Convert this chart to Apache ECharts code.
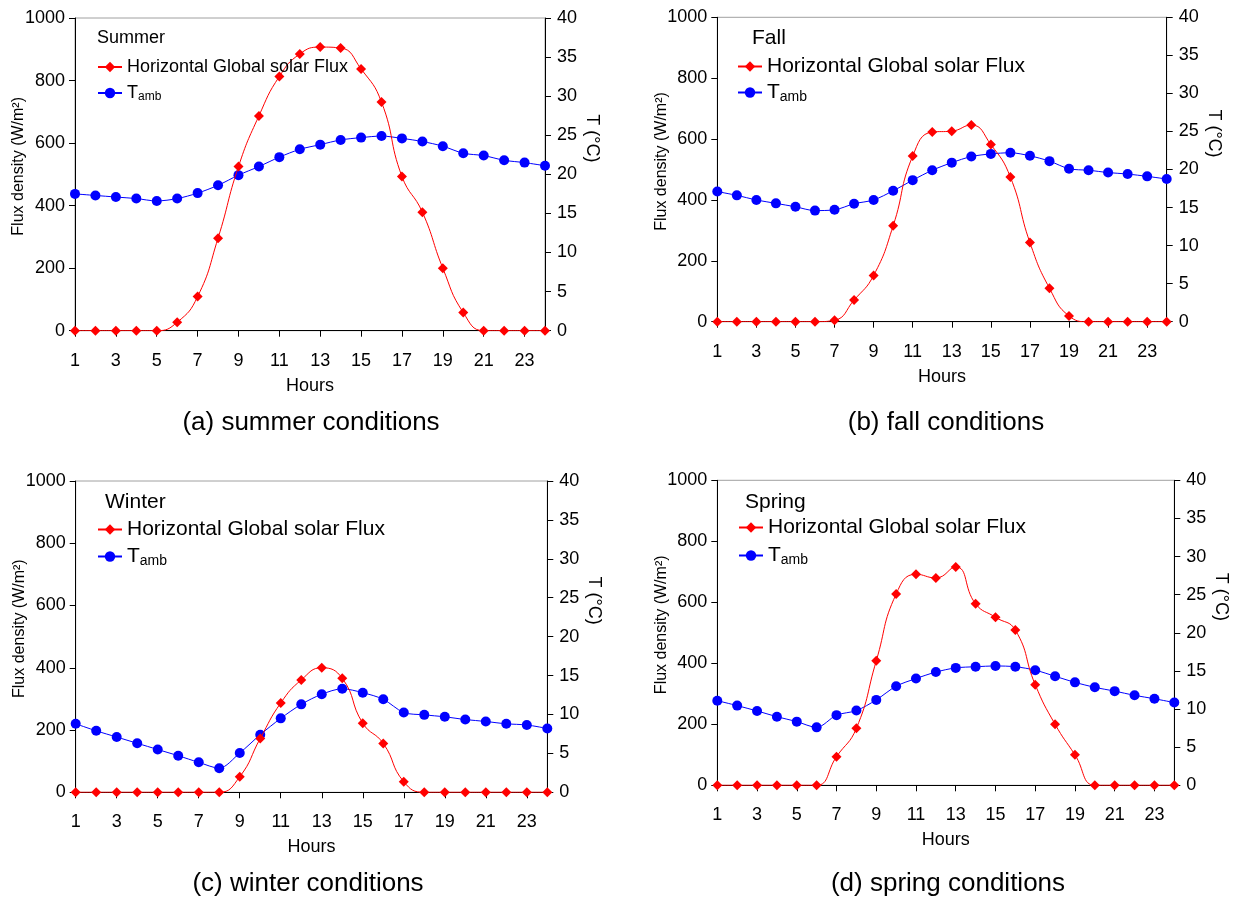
<!DOCTYPE html>
<html><head><meta charset="utf-8">
<script src="https://cdn.jsdelivr.net/npm/echarts@6/dist/echarts.min.js"></script>
<style>html,body{margin:0;padding:0;background:#fff}#c{width:1237px;height:898px}</style>
</head><body><div id="c"></div>
<script>
// ---------- data ----------
const hours = ['1','2','3','4','5','6','7','8','9','10','11','12','13','14','15','16','17','18','19','20','21','22','23','24'];
const seriesNames = ['Horizontal Global solar Flux', 'Tamb'];
const seasonLabels = ['Summer', 'Fall', 'Winter', 'Spring'];
const captions = ['(a) summer conditions', '(b) fall conditions', '(c) winter conditions', '(d) spring conditions'];
const fluxAxisName = 'Flux density (W/m²)';
const tempAxisName = 'T (°C)';
const xAxisName = 'Hours';

const summerFlux = [0,0,0,0,0,27,109,296,525,687,813,885,907,904,837,731,493,379,200,58,0,0,0,0];
const summerTamb = [17.5,17.3,17.1,16.9,16.6,16.9,17.6,18.6,19.9,21.0,22.2,23.2,23.8,24.4,24.7,24.9,24.6,24.2,23.6,22.7,22.4,21.8,21.5,21.1];
const fallFlux = [0,0,0,0,0,0,5,71,152,315,544,623,626,646,582,475,260,110,19,0,0,0,0,0];
const fallTamb = [17.1,16.6,16.0,15.55,15.1,14.6,14.7,15.5,16.0,17.2,18.6,19.9,20.9,21.7,22.05,22.2,21.8,21.1,20.1,19.9,19.6,19.4,19.1,18.75];
const winterFlux = [0,0,0,0,0,0,0,0,50,173,287,361,400,366,222,157,34,0,0,0,0,0,0,0];
const winterTamb = [8.8,7.9,7.1,6.3,5.5,4.7,3.85,3.1,5.05,7.4,9.5,11.3,12.6,13.3,12.8,11.95,10.25,9.95,9.7,9.35,9.1,8.8,8.65,8.2];
const springFlux = [0,0,0,0,0,0,94,187,408,627,692,680,716,595,551,509,330,200,100,0,0,0,0,0];
const springTamb = [11.1,10.45,9.75,9.0,8.35,7.6,9.2,9.8,11.2,13.0,14.0,14.85,15.4,15.55,15.65,15.55,15.1,14.3,13.5,12.85,12.35,11.8,11.35,10.85];

const fluxData = [summerFlux, fallFlux, winterFlux, springFlux];
const tambData = [summerTamb, fallTamb, winterTamb, springTamb];

// ---------- layout ----------
const FONT = 'Liberation Sans, Arial, sans-serif';
const panels = [
  {grid:{left:75, top:18, width:470, height:312.7}, season:{x:97, y:38, size:18}, legend:{left:97, top:58, gap:8, size:18}, caption:{x:311, y:423}},
  {grid:{left:717.3, top:17.3, width:449.4, height:304.4}, season:{x:752, y:38, size:21}, legend:{left:737, top:56, gap:5, size:21}, caption:{x:946, y:423}},
  {grid:{left:75.7, top:481, width:471.6, height:311.3}, season:{x:105, y:502, size:21}, legend:{left:97, top:519, gap:6, size:21}, caption:{x:308, y:884}},
  {grid:{left:717.3, top:480.3, width:457, height:305}, season:{x:745, y:502, size:21}, legend:{left:738, top:517, gap:7, size:21}, caption:{x:948, y:884}}
];

const grids = [], xAxes = [], yAxes = [], series = [], legends = [], graphics = [];
panels.forEach((p, i) => {
  grids.push(Object.assign({show:true, borderColor:'#a0a0a0', borderWidth:1, backgroundColor:'transparent', containLabel:false, outerBoundsMode:'none'}, p.grid));
  xAxes.push({
    type:'category', gridIndex:i, data:hours, boundaryGap:false,
    name:xAxisName, nameLocation:'middle', nameGap:46, nameMoveOverlap:false,
    nameTextStyle:{fontSize:18, fontFamily:FONT, color:'#000'},
    axisLine:{lineStyle:{color:'#000', width:1}},
    axisTick:{interval:1, length:6, inside:false, lineStyle:{color:'#000'}},
    axisLabel:{interval:1, margin:21, fontSize:18, fontFamily:FONT, color:'#000'},
    splitLine:{show:false}
  });
  yAxes.push({
    type:'value', gridIndex:i, position:'left', min:0, max:1000, interval:200,
    name:fluxAxisName, nameLocation:'middle', nameGap:48, nameMoveOverlap:false,
    nameTextStyle:{fontSize:16, fontFamily:FONT, color:'#000', padding:[0,0,0,16]},
    axisLine:{show:true, lineStyle:{color:'#000', width:1}},
    axisTick:{show:true, length:6, lineStyle:{color:'#000'}},
    axisLabel:{margin:10, fontSize:18, fontFamily:FONT, color:'#000', formatter: v => String(v)},
    splitLine:{show:false}
  });
  yAxes.push({
    type:'value', gridIndex:i, position:'right', min:0, max:40, interval:5,
    name:tempAxisName, nameLocation:'middle', nameGap:38, nameRotate:-90, nameMoveOverlap:false,
    nameTextStyle:{fontSize:18, fontFamily:FONT, color:'#000', padding:[0,72,0,0]},
    axisLine:{show:true, lineStyle:{color:'#000', width:1}},
    axisTick:{show:true, length:6, lineStyle:{color:'#000'}},
    axisLabel:{margin:12, fontSize:18, fontFamily:FONT, color:'#000', formatter: v => String(v)},
    splitLine:{show:false}
  });
  series.push({
    type:'line', name:seriesNames[1], xAxisIndex:i, yAxisIndex:2*i+1, data:tambData[i],
    smooth:0.3, symbol:'circle', symbolSize:10, z:2,
    lineStyle:{color:'#0000ff', width:1}, itemStyle:{color:'#0000ff'}
  });
  series.push({
    type:'line', name:seriesNames[0], xAxisIndex:i, yAxisIndex:2*i, data:fluxData[i],
    smooth:0.5, symbol:'diamond', symbolSize:10, z:3,
    lineStyle:{color:'#ff0000', width:1}, itemStyle:{color:'#ff0000'}
  });
  const s = p.legend.size;
  legends.push({
    orient:'vertical', left:p.legend.left, top:p.legend.top, itemGap:p.legend.gap,
    itemWidth:24, itemHeight:13, selectedMode:false, padding:0,
    data:[seriesNames[0], seriesNames[1]],
    formatter: n => n === 'Tamb' ? '{t|T}{s|amb}' : n,
    textStyle:{fontSize:s, fontFamily:FONT, color:'#000',
      rich:{t:{fontSize:s, fontFamily:FONT, color:'#000'},
            s:{fontSize:Math.round(s*0.68), fontFamily:FONT, color:'#000', padding:[Math.round(s*0.45),0,0,0]}}}
  });
  graphics.push({type:'text', x:p.season.x, y:p.season.y,
    style:{text:seasonLabels[i], fontSize:p.season.size, fontFamily:FONT, fill:'#000', align:'left', verticalAlign:'middle'}});
  graphics.push({type:'text', x:p.caption.x, y:p.caption.y,
    style:{text:captions[i], fontSize:26, fontFamily:FONT, fill:'#000', align:'center', verticalAlign:'middle'}});
});

const chart = echarts.init(document.getElementById('c'), null, {renderer:'canvas'});
chart.setOption({
  animation:false, backgroundColor:'#fff',
  grid:grids, xAxis:xAxes, yAxis:yAxes, series:series, legend:legends, graphic:graphics
});
</script></body></html>
